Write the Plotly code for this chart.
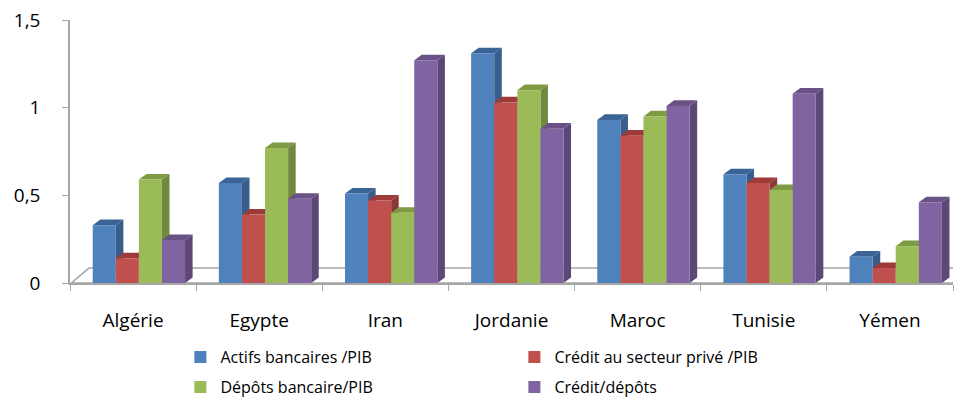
import plotly.graph_objects as go

categories = ["Algérie", "Egypte", "Iran", "Jordanie", "Maroc", "Tunisie", "Yémen"]
actifs = [0.33, 0.57, 0.51, 1.31, 0.93, 0.62, 0.15]
credit_prive = [0.14, 0.39, 0.47, 1.03, 0.84, 0.57, 0.085]
depots = [0.59, 0.77, 0.40, 1.10, 0.95, 0.53, 0.21]
credit_depots = [0.245, 0.48, 1.27, 0.88, 1.01, 1.08, 0.46]

series = [
    ("Actifs bancaires /PIB", actifs, "#4F81BD", "#385D8A", "#3A6396", "legend"),
    ("Crédit au secteur privé /PIB", credit_prive, "#C0504D", "#8C3836", "#9E3B39", "legend"),
    ("Dépôts bancaire/PIB", depots, "#9BBB59", "#71893F", "#7E9B44", "legend2"),
    ("Crédit/dépôts", credit_depots, "#8064A2", "#5C4776", "#6A5287", "legend2"),
]

bw = 0.183
start = -0.365 + 0.045
dx, dy = 0.06, 0.032

fig = go.Figure()
shapes = []
for j, (name, vals, col, side, top, leg) in enumerate(series):
    off = start + j * bw
    fig.add_trace(go.Bar(
        x=categories, y=vals, name=name, marker_color=col,
        width=bw, offset=off, marker_line_width=0, legend=leg,
    ))
    for i, v in enumerate(vals):
        xl = i + off
        xr = xl + bw
        shapes.append(dict(type="path", xref="x", yref="y", layer="below",
                           path=f"M {xr},0 L {xr+dx},{dy} L {xr+dx},{v+dy} L {xr},{v} Z",
                           fillcolor=side, line=dict(width=0)))
        shapes.append(dict(type="path", xref="x", yref="y", layer="below",
                           path=f"M {xl},{v} L {xl+dx},{v+dy} L {xr+dx},{v+dy} L {xr},{v} Z",
                           fillcolor=top, line=dict(width=0)))

floor_y = 0.085
shapes.insert(0, dict(type="path", xref="x", yref="y", layer="below",
                      path=f"M -0.49,0 L -0.35,{floor_y} L 6.6,{floor_y} L 6.5,0 Z",
                      fillcolor="white", line=dict(color="#A6A6A6", width=1.5)))

font_family = "Open Sans, Lato, sans-serif"
leg_common = dict(orientation="h", x=0.125, xanchor="left", yanchor="middle",
                  entrywidth=289, entrywidthmode="pixels",
                  font=dict(size=16, family=font_family), traceorder="normal",
                  itemwidth=30, bgcolor="rgba(0,0,0,0)")

H, T, B = 403, 20, 12
paper_h = H - T - B

fig.update_layout(
    width=964, height=H,
    margin=dict(l=70, r=11, t=T, b=B, autoexpand=False),
    paper_bgcolor="white", plot_bgcolor="white",
    separators=", ",
    barmode="group",
    shapes=shapes,
    font=dict(family=font_family, color="#000000"),
    showlegend=True,
    legend=dict(y=(H - B - 357) / paper_h, **leg_common),
    legend2=dict(y=(H - B - 387) / paper_h, **leg_common),
    xaxis=dict(type="category", range=[-0.5, 6.5], showline=True, linecolor="#A6A6A6",
               linewidth=1.5, ticks="outside", ticklen=6, tickcolor="#A6A6A6",
               tickson="boundaries", showgrid=False, tickfont=dict(size=19),
               ticklabelstandoff=19, automargin=False),
    yaxis=dict(domain=[1 - 263 / paper_h, 1], range=[0, 1.5], tickvals=[0, 0.5, 1, 1.5],
               showline=True, linecolor="#A6A6A6", linewidth=1.5, ticks="outside",
               ticklen=6, tickcolor="#A6A6A6", showgrid=False, zeroline=False,
               tickfont=dict(size=19), ticklabelstandoff=18, automargin=False),
)

fig.write_html("out.html", config={"displayModeBar": False},
               post_script="document.body.style.margin='0';")
